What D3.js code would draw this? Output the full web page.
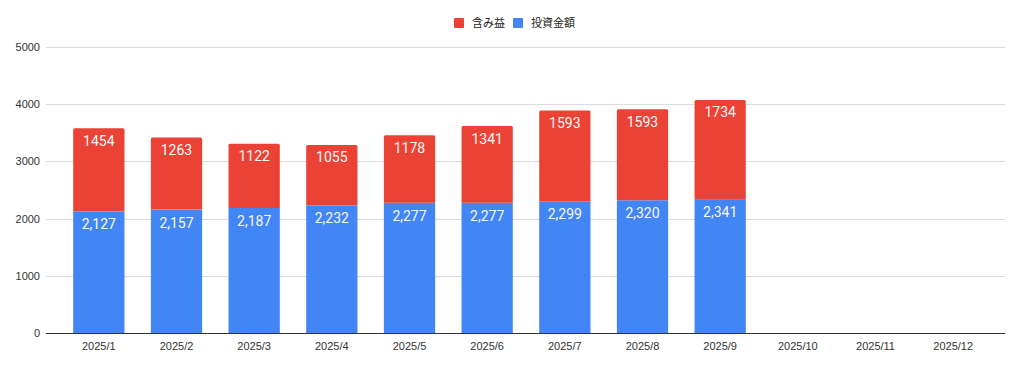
<!DOCTYPE html>
<html><head><meta charset="utf-8">
<script src="https://cdn.jsdelivr.net/npm/d3@7"></script>
<style>body{margin:0;background:#fff}svg{display:block}</style>
</head><body><svg id="c" width="1024" height="368"></svg>
<script>
const categories = ["2025/1","2025/2","2025/3","2025/4","2025/5","2025/6","2025/7","2025/8","2025/9","2025/10","2025/11","2025/12"];
const investment = [2127,2157,2187,2232,2277,2277,2299,2320,2341,null,null,null];
const gain = [1454,1263,1122,1055,1178,1341,1593,1593,1734,null,null,null];
const yTicks = [0,1000,2000,3000,4000,5000];
const seriesNames = ["含み益","投資金額"];
const seriesColors = ["#EA4335","#4285F4"];

const svg = d3.select("#c");
const x = d3.scaleBand().domain(categories).range([60,992]).paddingInner(0.34).paddingOuter(0.17);
const y = d3.scaleLinear().domain([0,5000]).range([333,47]);

// grid
svg.append("g").selectAll("line").data(yTicks.filter(d=>d>0)).join("line")
  .attr("x1",46).attr("x2",1005).attr("y1",d=>Math.round(y(d))+0.5).attr("y2",d=>Math.round(y(d))+0.5)
  .attr("stroke","#dcdcdc").attr("stroke-width",1);

// y axis labels
const yAxis = d3.axisLeft(y).tickValues(yTicks).tickSize(0).tickPadding(0).tickFormat(d3.format("d"));
const ya = svg.append("g").attr("transform","translate(40,0)").call(yAxis);
ya.select(".domain").remove();
ya.selectAll("text").attr("font-family","Liberation Sans, Arial, sans-serif").attr("font-size",11).attr("fill","#333");

const rows = categories.map((c,i)=>({c, inv:investment[i], gain:gain[i]})).filter(d=>d.inv!=null);

// blue bars
svg.append("g").selectAll("rect").data(rows).join("rect")
  .attr("x",d=>x(d.c)).attr("width",x.bandwidth())
  .attr("y",d=>y(d.inv)).attr("height",d=>y(0)-y(d.inv)).attr("fill",seriesColors[1]);
// red bars
svg.append("g").selectAll("path").data(rows).join("path")
  .attr("d",d=>{
    const x0=x(d.c), w=x.bandwidth(), t=y(d.inv+d.gain), b=y(d.inv), r=1.5;
    return `M${x0},${b}V${t+r}Q${x0},${t} ${x0+r},${t}H${x0+w-r}Q${x0+w},${t} ${x0+w},${t+r}V${b}Z`;
  }).attr("fill",seriesColors[0]);

// labels
const lab = svg.append("g").attr("font-family","Roboto, sans-serif").attr("font-size",14).attr("fill","#f8f8f8").attr("text-anchor","middle");
lab.selectAll("text.b").data(rows).join("text").attr("class","b")
  .attr("x",d=>x(d.c)+x.bandwidth()/2).attr("y",d=>y(d.inv)+18).text(d=>d3.format(",")(d.inv));
lab.selectAll("text.r").data(rows).join("text").attr("class","r")
  .attr("x",d=>x(d.c)+x.bandwidth()/2).attr("y",d=>y(d.inv+d.gain)+17.5).text(d=>d.gain);

// x axis
svg.append("line").attr("x1",46).attr("x2",1005).attr("y1",Math.round(y(0))+0.5).attr("y2",Math.round(y(0))+0.5).attr("stroke","#333").attr("stroke-width",1);
const xa = svg.append("g").attr("transform",`translate(0,${y(0)})`).call(d3.axisBottom(x).tickSize(0).tickPadding(9));
xa.select(".domain").remove();
xa.selectAll("text").attr("font-family","Liberation Sans, Arial, sans-serif").attr("font-size",11).attr("fill","#333");

// legend
const leg = svg.append("g");
const legX = [454, 513];
seriesNames.forEach((n,i)=>{
  leg.append("rect").attr("x",legX[i]).attr("y",18).attr("width",10).attr("height",10).attr("rx",1).attr("fill",seriesColors[i]);
  leg.append("text").attr("x",legX[i]+18).attr("y",27).attr("font-family","Noto Sans CJK JP, sans-serif").attr("font-size",11).attr("fill","#222").text(n);
});
</script></body></html>
